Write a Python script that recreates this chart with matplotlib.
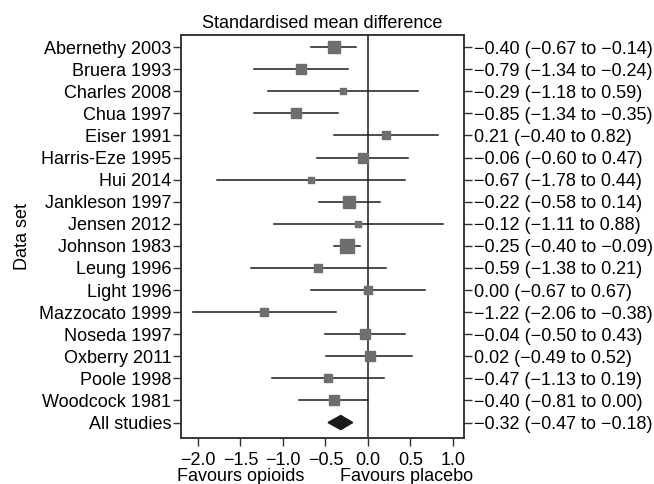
import matplotlib
matplotlib.use("Agg")
import matplotlib.pyplot as plt
import numpy as np

plt.rcParams['font.family'] = ['Liberation Sans', 'DejaVu Sans']

studies = ["Abernethy 2003", "Bruera 1993", "Charles 2008", "Chua 1997", "Eiser 1991",
           "Harris-Eze 1995", "Hui 2014", "Jankleson 1997", "Jensen 2012", "Johnson 1983",
           "Leung 1996", "Light 1996", "Mazzocato 1999", "Noseda 1997", "Oxberry 2011",
           "Poole 1998", "Woodcock 1981"]
est = [-0.40, -0.79, -0.29, -0.85, 0.21, -0.06, -0.67, -0.22, -0.12, -0.25,
       -0.59, 0.00, -1.22, -0.04, 0.02, -0.47, -0.40]
lo = [-0.67, -1.34, -1.18, -1.34, -0.40, -0.60, -1.78, -0.58, -1.11, -0.40,
      -1.38, -0.67, -2.06, -0.50, -0.49, -1.13, -0.81]
hi = [-0.14, -0.24, 0.59, -0.35, 0.82, 0.47, 0.44, 0.14, 0.88, -0.09,
      0.21, 0.67, -0.38, 0.43, 0.52, 0.19, 0.00]
weights_px = [12, 9, 6, 10, 8, 10, 5, 11, 6, 14, 7, 8, 7, 10, 9, 8, 10]
summary_label = "All studies"
summary = (-0.32, -0.47, -0.18)
xticks = [-2.0, -1.5, -1.0, -0.5, 0.0, 0.5, 1.0]

FS = 13

fig = plt.figure(figsize=(6.54, 4.84), dpi=100)
ax = fig.add_axes([181/654, 1-438/484, (464-181)/654, (438-35)/484])

n = len(studies)
ys = np.arange(n)
for i in range(n):
    ax.plot([lo[i], hi[i]], [ys[i], ys[i]], color='#1a1a1a', lw=1.1, zorder=2)
    ax.plot(est[i], ys[i], marker='s', ms=weights_px[i]*0.75, color='#6e6e6e',
            mec='#6e6e6e', zorder=3)

ysum = n
e, l, h = summary
ax.fill([l, e, h, e], [ysum, ysum-0.32, ysum, ysum+0.32], color='#1a1a1a', zorder=3)

ax.axvline(0, color='#1a1a1a', lw=1.1, zorder=1)

xmin, xmax = -2.2, 1.13
ax.set_xlim(xmin, xmax)
ax.set_ylim(n + 0.7, -0.55)
ax.set_xticks(xticks)
ax.set_xticklabels([f"{t:.1f}".replace('-', '\u2212') for t in xticks], fontsize=FS)

labels = studies + [summary_label]
ax.set_yticks(list(ys) + [ysum])
ax.set_yticklabels(labels, fontsize=FS)

fmt = lambda v: f"{v:.2f}".replace('-', '\u2212')
right_labels = [f"{fmt(est[i])} ({fmt(lo[i])} to {fmt(hi[i])})" for i in range(n)]
right_labels.append(f"{fmt(e)} ({fmt(l)} to {fmt(h)})")
ax2 = ax.twinx()
ax2.set_ylim(ax.get_ylim())
ax2.set_yticks(list(ys) + [ysum])
ax2.set_yticklabels(right_labels, fontsize=FS)

for a in (ax, ax2):
    a.tick_params(axis='both', length=6, width=1, color='#333333')
    a.tick_params(axis='y', pad=1)
    a.tick_params(axis='x', pad=4)
    for s in a.spines.values():
        s.set_linewidth(1.1)
        s.set_color('#333333')

ax.set_title("Standardised mean difference", fontsize=FS, pad=5)
ax.set_ylabel("Data set", fontsize=FS, labelpad=6)
span = xmax - xmin
ax.text((-1.5 - xmin) / span, -0.074, "Favours opioids", transform=ax.transAxes,
        ha='center', va='top', fontsize=FS)
ax.text((0.45 - xmin) / span, -0.074, "Favours placebo", transform=ax.transAxes,
        ha='center', va='top', fontsize=FS)

fig.savefig("out.png", dpi=100)
